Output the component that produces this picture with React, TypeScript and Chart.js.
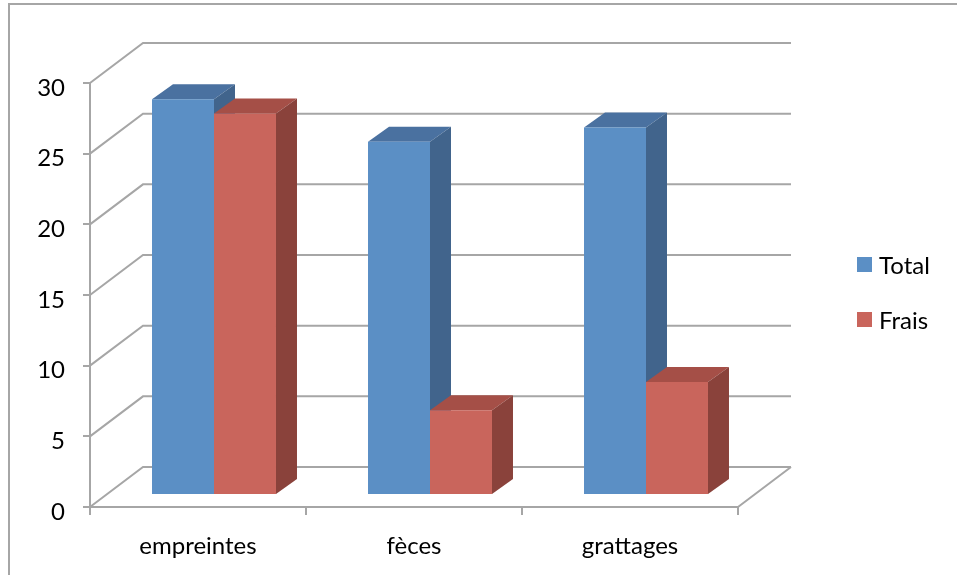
import { useEffect, useRef } from "react";
import { Chart, registerables } from "chart.js";

Chart.register(...registerables);

const categories = ["empreintes", "fèces", "grattages"];
const seriesNames = ["Total", "Frais"];
const totalValues = [28, 25, 26];
const fraisValues = [27, 6, 8];
const yTickValues = [0, 5, 10, 15, 20, 25, 30];

const GRID = "#a6a6a6";
const FONT = "Lato";
const FONT_SIZE = 24;
const WALL = { dx: 53, dy: -40 };
const BAR_SHIFT = { dx: 16, dy: -12 };
const BAR_DEPTH = { dx: 21, dy: -15 };
const FACES = [
  { front: "#5B8FC5", top: "#4A71A0", side: "#41648C" },
  { front: "#C9655C", top: "#A54F47", side: "#8A423B" },
];

const threeD = {
  id: "threeD",
  beforeDraw(chart: any) {
    const ctx = chart.ctx;
    ctx.save();
    ctx.strokeStyle = GRID;
    ctx.lineWidth = 2;
    ctx.beginPath();
    ctx.moveTo(9, 575);
    ctx.lineTo(9, 4);
    ctx.lineTo(957, 4);
    ctx.stroke();
    ctx.restore();
  },
  beforeDatasetsDraw(chart: any) {
    const { ctx, chartArea: a, scales } = chart;
    const ys = scales.y;
    ctx.save();
    ctx.strokeStyle = GRID;
    ctx.lineWidth = 2;
    ctx.beginPath();
    for (const v of yTickValues) {
      const py = ys.getPixelForValue(v);
      ctx.moveTo(a.left, py);
      ctx.lineTo(a.left + WALL.dx, py + WALL.dy);
      ctx.lineTo(a.right + WALL.dx, py + WALL.dy);
    }
    ctx.moveTo(a.right, a.bottom);
    ctx.lineTo(a.right + WALL.dx, a.bottom + WALL.dy);
    ctx.stroke();

    const metas = chart.data.datasets.map((_: any, i: number) => chart.getDatasetMeta(i));
    const n = chart.data.labels.length;
    const { dx, dy } = BAR_DEPTH;
    for (let j = 0; j < n; j++) {
      for (let i = 0; i < metas.length; i++) {
        const el = metas[i].data[j];
        const p = el.getProps(["x", "y", "base", "width"], true);
        const l = p.x - p.width / 2 + BAR_SHIFT.dx;
        const r = p.x + p.width / 2 + BAR_SHIFT.dx;
        const t = p.y + BAR_SHIFT.dy;
        const b = p.base + BAR_SHIFT.dy;
        ctx.fillStyle = FACES[i].top;
        ctx.beginPath();
        ctx.moveTo(l, t);
        ctx.lineTo(l + dx, t + dy);
        ctx.lineTo(r + dx, t + dy);
        ctx.lineTo(r, t);
        ctx.closePath();
        ctx.fill();
        ctx.fillStyle = FACES[i].side;
        ctx.beginPath();
        ctx.moveTo(r, t);
        ctx.lineTo(r + dx, t + dy);
        ctx.lineTo(r + dx, b + dy);
        ctx.lineTo(r, b);
        ctx.closePath();
        ctx.fill();
      }
    }
    ctx.restore();
    ctx.save();
    ctx.translate(BAR_SHIFT.dx, BAR_SHIFT.dy);
  },
  afterDatasetsDraw(chart: any) {
    const ctx = chart.ctx;
    ctx.restore();
    ctx.save();
    ctx.font = `${FONT_SIZE}px ${FONT}`;
    ctx.textBaseline = "middle";
    ctx.textAlign = "left";
    const legendYs = [265, 320];
    chart.data.datasets.forEach((ds: any, i: number) => {
      const yy = legendYs[i];
      ctx.fillStyle = FACES[i].front;
      ctx.fillRect(857, yy - 8, 15, 15);
      ctx.fillStyle = "#000";
      ctx.fillText(ds.label, 879, yy + 1);
    });
    ctx.restore();
  },
};

export default function App() {
  const ref = useRef<HTMLCanvasElement>(null);
  useEffect(() => {
    if (!ref.current) return;
    const chart = new Chart(ref.current, {
      type: "bar",
      data: {
        labels: categories,
        datasets: [
          { label: seriesNames[0], data: totalValues, backgroundColor: FACES[0].front, borderWidth: 0 },
          { label: seriesNames[1], data: fraisValues, backgroundColor: FACES[1].front, borderWidth: 0 },
        ],
      },
      options: {
        responsive: false,
        animation: false,
        events: [],
        layout: { padding: { left: 8, top: 83, right: 219, bottom: 0 } },
        datasets: { bar: { categoryPercentage: 0.574, barPercentage: 1, clip: false } as any },
        plugins: { legend: { display: false }, tooltip: { enabled: false } },
        scales: {
          x: {
            afterFit: (s: any) => { s.height = 68; },
            grid: { display: true, drawOnChartArea: false, drawTicks: true, tickLength: 8, color: GRID, lineWidth: 2, offset: true },
            border: { display: true, color: GRID, width: 2 },
            ticks: { color: "#000", font: { family: FONT, size: FONT_SIZE }, padding: 17, maxRotation: 0 },
          },
          y: {
            min: 0,
            max: 30,
            afterFit: (s: any) => { s.width = 82; },
            afterBuildTicks: (s: any) => { s.ticks = yTickValues.map((v) => ({ value: v })); },
            grid: { display: true, drawOnChartArea: false, drawTicks: true, tickLength: 7, color: GRID, lineWidth: 2 },
            border: { display: true, color: GRID, width: 2 },
            ticks: { color: "#000", font: { family: FONT, size: FONT_SIZE }, padding: 18, labelOffset: 5 },
          },
        },
      },
      plugins: [threeD],
    });
    return () => chart.destroy();
  }, []);
  return (
    <div style={{ position: "absolute", left: 0, top: 0, width: 957, height: 575, background: "#fff" }}>
      <canvas ref={ref} width={957} height={575} style={{ display: "block" }} />
    </div>
  );
}
